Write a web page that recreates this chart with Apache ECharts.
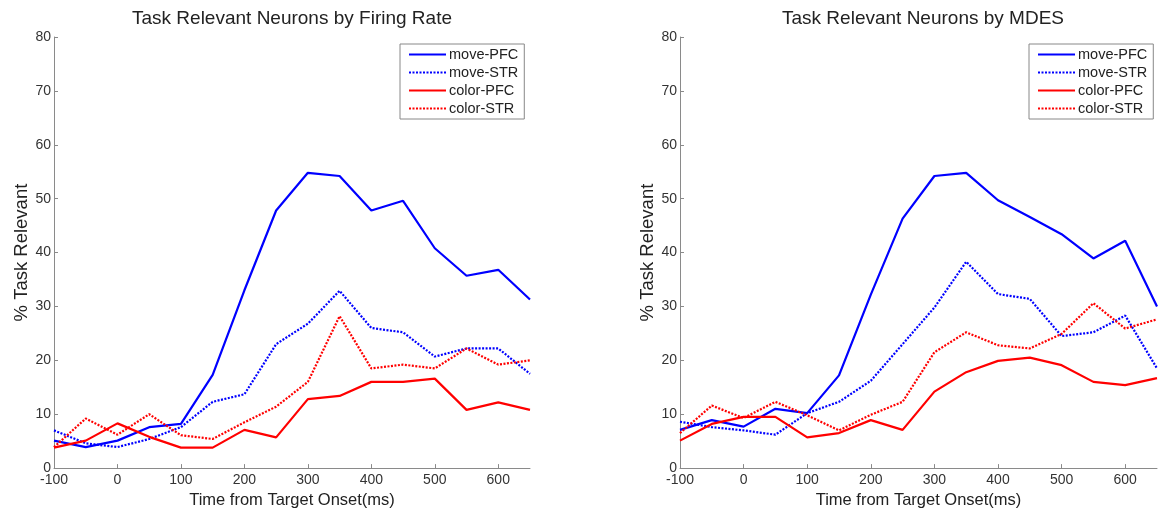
<!DOCTYPE html>
<html>
<head>
<meta charset="utf-8">
<script src="https://cdn.jsdelivr.net/npm/echarts@6/dist/echarts.min.js"></script>
<style>
  html, body { margin: 0; padding: 0; background: #fff; }
  #main { width: 1160px; height: 514px; }
</style>
</head>
<body>
<div id="main"></div>
<script>
// time bins (ms from target onset)
const times = [-100, -50, 0, 50, 100, 150, 200, 250, 300, 350, 400, 450, 500, 550, 600, 650];

// left panel: by firing rate
const frMovePFC = [5.1, 3.9, 5.1, 7.6, 8.2, 17.3, 33, 47.8, 54.8, 54.2, 47.8, 49.6, 40.8, 35.7, 36.8, 31.3];
const frMoveSTR = [7.0, 4.6, 3.9, 5.4, 7.6, 12.3, 13.7, 23.0, 26.8, 32.9, 26.0, 25.2, 20.7, 22.2, 22.2, 17.5];
const frColorPFC = [3.8, 5.1, 8.3, 5.8, 3.8, 3.8, 7.1, 5.7, 12.8, 13.4, 16.0, 16.0, 16.6, 10.8, 12.2, 10.8];
const frColorSTR = [3.9, 9.2, 6.2, 10.0, 6.1, 5.4, 8.5, 11.4, 16.0, 28.2, 18.5, 19.2, 18.5, 22.2, 19.2, 20.0];

// right panel: by MDES
const mdMovePFC = [7.1, 8.9, 7.7, 11.0, 10.2, 17.2, 32.2, 46.3, 54.2, 54.8, 49.7, 46.6, 43.4, 38.9, 42.2, 30.0];
const mdMoveSTR = [8.6, 7.6, 7.0, 6.2, 10.2, 12.3, 16.2, 23.0, 29.8, 38.3, 32.3, 31.4, 24.5, 25.2, 28.3, 18.5];
const mdColorPFC = [5.1, 8.2, 9.5, 9.5, 5.7, 6.5, 8.9, 7.1, 14.2, 17.8, 19.9, 20.5, 19.1, 16.0, 15.4, 16.7];
const mdColorSTR = [6.5, 11.6, 9.3, 12.3, 9.8, 7.0, 9.9, 12.3, 21.5, 25.2, 22.8, 22.2, 24.9, 30.6, 25.9, 27.6];

const seriesNames = ['move-PFC', 'move-STR', 'color-PFC', 'color-STR'];
const titles = ['Task Relevant Neurons by Firing Rate', 'Task Relevant Neurons by MDES'];

var myChart = echarts.init(document.getElementById('main'));

const font = 'Liberation Sans, Arial, sans-serif';
const BLUE = '#0000ff';
const RED = '#ff0000';

function pairs(ys) {
    return times.map((t, i) => [t, ys[i]]);
}

function makeSeries(idx, data) {
    const styles = [
        { color: BLUE, type: 'solid' },
        { color: BLUE, type: [2, 1.5] },
        { color: RED, type: 'solid' },
        { color: RED, type: [2, 1.5] }
    ];
    return data.map((d, i) => ({
        name: seriesNames[i],
        type: 'line',
        xAxisIndex: idx,
        yAxisIndex: idx,
        symbol: 'none',
        animation: false,
        color: styles[i].color,
        lineStyle: { width: 2.2, color: styles[i].color, type: styles[i].type },
        data: pairs(d)
    }));
}

function xAxisOf(idx) {
    return {
        gridIndex: idx,
        type: 'value',
        min: -100,
        max: 650,
        interval: 100,
        name: 'Time from Target Onset(ms)',
        nameLocation: 'middle',
        nameGap: 17,
        nameTextStyle: { fontFamily: font, fontSize: 16.5, color: '#222' },
        axisLine: { onZero: false, lineStyle: { color: '#8a8a8a', width: 1 } },
        axisTick: { inside: true, length: 4, lineStyle: { color: '#8a8a8a' } },
        axisLabel: { fontFamily: font, fontSize: 14, color: '#333', margin: 5, showMaxLabel: false },
        splitLine: { show: false }
    };
}

function yAxisOf(idx) {
    return {
        gridIndex: idx,
        type: 'value',
        min: 0,
        max: 80,
        interval: 10,
        name: '% Task Relevant',
        nameLocation: 'middle',
        nameGap: 23,
        nameTextStyle: { fontFamily: font, fontSize: 18.5, color: '#222' },
        axisLine: { show: true, onZero: false, lineStyle: { color: '#8a8a8a', width: 1 } },
        axisTick: { show: true, inside: true, length: 4, lineStyle: { color: '#8a8a8a' } },
        axisLabel: { fontFamily: font, fontSize: 14, color: '#333', margin: 3 },
        splitLine: { show: false }
    };
}

function legendOf(left) {
    return {
        left: left,
        top: 44,
        orient: 'vertical',
        data: seriesNames,
        itemWidth: 37,
        itemHeight: 12,
        itemGap: 3,
        padding: [3, 6, 3, 8],
        borderColor: '#888',
        borderWidth: 1,
        backgroundColor: '#fff',
        itemStyle: { opacity: 0 },
        textStyle: { fontFamily: font, fontSize: 14.5, color: '#222', padding: [0, 0, 0, -2] }
    };
}

let option = {
    backgroundColor: '#fff',
    title: [
        { text: titles[0], left: 287, top: 4, textAlign: 'center',
          textStyle: { fontFamily: font, fontSize: 19, fontWeight: 'normal', color: '#222' } },
        { text: titles[1], left: 918, top: 4, textAlign: 'center',
          textStyle: { fontFamily: font, fontSize: 19, fontWeight: 'normal', color: '#222' } }
    ],
    legend: [legendOf(400), legendOf(1029)],
    grid: [
        { left: 54, right: 630, top: 37, bottom: 44 },
        { left: 680, right: 3, top: 37, bottom: 44 }
    ],
    xAxis: [xAxisOf(0), xAxisOf(1)],
    yAxis: [yAxisOf(0), yAxisOf(1)],
    series: makeSeries(0, [frMovePFC, frMoveSTR, frColorPFC, frColorSTR])
        .concat(makeSeries(1, [mdMovePFC, mdMoveSTR, mdColorPFC, mdColorSTR]))
};

myChart.setOption(option);
</script>
</body>
</html>
